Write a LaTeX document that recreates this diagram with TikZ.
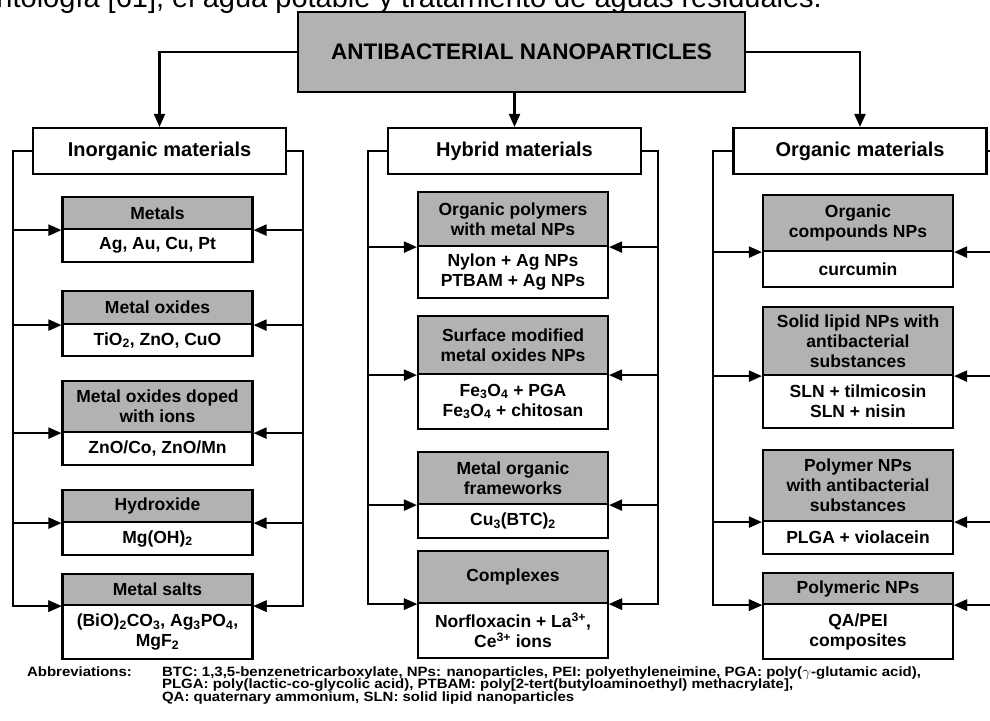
\documentclass[tikz,border=0pt]{standalone}
\usepackage{fontspec}
\setmainfont{Liberation Sans}
\usetikzlibrary{arrows.meta}
\begin{document}
\begin{tikzpicture}[x=1pt,y=-1pt,line width=2.1pt,>={Triangle[length=13pt,width=11pt]},
  titlebox/.style={draw,fill=black!30,minimum width=447pt,minimum height=80pt,font=\fontsize{22.5}{26}\selectfont\bfseries},
  groupbox/.style={draw,fill=white,minimum width=253pt,minimum height=46pt,font=\fontsize{20}{24}\selectfont\bfseries},
  headbox/.style={draw,fill=black!30,anchor=north,minimum width=190pt,align=center,inner sep=1pt,font=\fontsize{17.5}{20}\selectfont\bfseries},
  bodybox/.style={headbox,fill=white},
  abbr/.style={anchor=base west,inner sep=0pt,font=\fontsize{13.5}{12}\selectfont\bfseries}]
\clip (0,0) rectangle (990,720);
\node[anchor=base east,inner sep=0pt,font=\fontsize{29}{34}\selectfont] (intro) at (823,7) {odontología [61], el agua potable y tratamiento de aguas residuales.};
% top level
\node[titlebox] (anp) at (521.5,52) {ANTIBACTERIAL NANOPARTICLES};
\node[groupbox] (inorg) at (159.5,151) {Inorganic materials};
\node[groupbox] (hybr) at (514.5,151) {Hybrid materials};
\node[groupbox] (organ) at (860,151) {Organic materials};
\draw[->] (anp.west) -| (inorg.north);
\draw[->] (anp.south -| hybr.north) -- (hybr.north);
\draw[->] (anp.east) -| (organ.north);
% inorganic materials
\coordinate (inl) at (13,151);
\coordinate (inr) at (303,151);
\foreach \nm/\ya/\yb/\yc/\hd/\tx in {met/196/228/261/Metals/{Ag, Au, Cu, Pt},
  mox/290/323/355/Metal oxides/{TiO\textsubscript{2}, ZnO, CuO},
  dop/380/431/464/{Metal oxides doped\\with ions}/{ZnO/Co, ZnO/Mn},
  hyd/489/521/554/Hydroxide/{Mg(OH)\textsubscript{2}},
  sal/573/604/658/Metal salts/{(BiO)\textsubscript{2}CO\textsubscript{3}, Ag\textsubscript{3}PO\textsubscript{4},\\MgF\textsubscript{2}}}{
  \node[headbox,minimum height=\yb-\ya] (\nm-h) at (157.5,\ya) {\hd};
  \node[bodybox,minimum height=\yc-\yb] (\nm-b) at (157.5,\yb) {\tx};
  \draw[->] (inl |- \nm-h.south west) -- (\nm-h.south west);
  \draw[->] (inr |- \nm-h.south east) -- (\nm-h.south east);
}
\draw[->] (inorg.west) -- (inl) |- (sal-h.south west);
\draw[->] (inorg.east) -- (inr) |- (sal-h.south east);
% hybrid materials
\coordinate (hyl) at (368,151);
\coordinate (hyr) at (658,151);
\foreach \nm/\ya/\yb/\yc/\hd/\tx in {oph/191/245/297/{Organic polymers\\with metal NPs}/{Nylon + Ag NPs\\PTBAM + Ag NPs},
  smo/315/373/428/{Surface modified\\metal oxides NPs}/{Fe\textsubscript{3}O\textsubscript{4} + PGA\\Fe\textsubscript{3}O\textsubscript{4} + chitosan},
  mof/451/503/537/{Metal organic\\frameworks}/{Cu\textsubscript{3}(BTC)\textsubscript{2}},
  cpx/550/602/657/Complexes/{Norfloxacin + La\textsuperscript{3+},\\Ce\textsuperscript{3+} ions}}{
  \node[headbox,minimum height=\yb-\ya] (\nm-h) at (513,\ya) {\hd};
  \node[bodybox,minimum height=\yc-\yb] (\nm-b) at (513,\yb) {\tx};
  \draw[->] (hyl |- \nm-h.south west) -- (\nm-h.south west);
  \draw[->] (hyr |- \nm-h.south east) -- (\nm-h.south east);
}
\draw[->] (hybr.west) -- (hyl) |- (cpx-h.south west);
\draw[->] (hybr.east) -- (hyr) |- (cpx-h.south east);
% organic materials
\coordinate (orl) at (713,151);
\coordinate (orr) at (1002,151);
\foreach \nm/\ya/\yb/\yc/\hd/\tx in {ocn/194/250/286/{Organic\\compounds NPs}/curcumin,
  sln/306/374/427/{Solid lipid NPs with\\antibacterial\\substances}/{SLN + tilmicosin\\SLN + nisin},
  pol/449/520/553/{Polymer NPs\\with antibacterial\\substances}/{PLGA + violacein},
  pmc/572/603/658/Polymeric NPs/{QA/PEI\\composites}}{
  \node[headbox,minimum height=\yb-\ya] (\nm-h) at (858,\ya) {\hd};
  \node[bodybox,minimum height=\yc-\yb] (\nm-b) at (858,\yb) {\tx};
  \draw[->] (orl |- \nm-h.south west) -- (\nm-h.south west);
  \draw[->] (orr |- \nm-h.south east) -- (\nm-h.south east);
}
\draw[->] (organ.west) -- (orl) |- (pmc-h.south west);
\draw[->] (organ.east) -- (orr) |- (pmc-h.south east);
% abbreviations
\node[abbr] (abbrev) at (26,676) {\scalebox{1.11}[1]{Abbreviations:}};
\node[abbr] (abbr1) at (161,676) {\scalebox{1.11}[1]{BTC: 1,3,5-benzenetricarboxylate, NPs: nanoparticles, PEI: polyethyleneimine, PGA: poly($\gamma$-glutamic acid),}};
\node[abbr] (abbr2) at (161,688.5) {\scalebox{1.11}[1]{PLGA: poly(lactic-co-glycolic acid), PTBAM: poly[2-tert(butyloaminoethyl) methacrylate],}};
\node[abbr] (abbr3) at (161,701) {\scalebox{1.11}[1]{QA: quaternary ammonium, SLN: solid lipid nanoparticles}};
\end{tikzpicture}
\end{document}
